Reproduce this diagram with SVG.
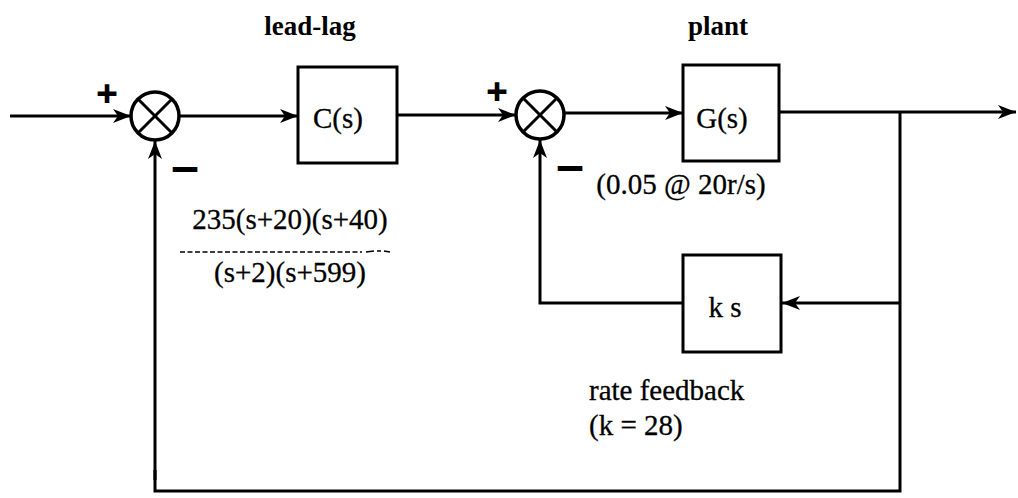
<svg xmlns="http://www.w3.org/2000/svg" width="1018" height="498" viewBox="0 0 1018 498">
<style>
  .box { fill: #fff; stroke: #000; stroke-width: 3; }
  .sum { fill: #fff; stroke: #000; stroke-width: 3.5; }
  .wire { fill: none; stroke: #000; stroke-width: 3; }
  .arr { marker-end: url(#ah); }
  .t { font-family: "Liberation Serif", "Times New Roman", "DejaVu Serif", serif; font-size: 29px; fill: #000; stroke: #000; stroke-width: 0.3; }
  .b { font-family: "Liberation Serif", "Times New Roman", "DejaVu Serif", serif; font-size: 27px; font-weight: bold; fill: #000; }
  .sg { font-family: "Liberation Serif", "Times New Roman", "DejaVu Serif", serif; font-weight: bold; fill: #000; stroke: #000; stroke-width: 2; }
</style>
<defs>
  <marker id="ah" markerUnits="userSpaceOnUse" markerWidth="20" markerHeight="14" refX="18" refY="7" orient="auto">
    <path d="M0,0 L18,7 L0,14 L5,7 Z" fill="#000"/>
  </marker>
</defs>

<g id="connectors">
  <line class="wire arr" x1="10" y1="116" x2="131" y2="116"/>
  <line class="wire arr" x1="180" y1="116" x2="298" y2="116"/>
  <line class="wire arr" x1="397" y1="115" x2="516" y2="115"/>
  <line class="wire arr" x1="565" y1="113" x2="683" y2="113"/>
  <line class="wire arr" x1="779" y1="112" x2="1016" y2="112"/>
  <polyline class="wire" points="900,112 900,491 155,491 155,470"/>
  <line class="wire arr" x1="155" y1="480" x2="155" y2="141"/>
  <line class="wire arr" x1="900" y1="303" x2="782" y2="303"/>
  <polyline class="wire arr" points="683,303 540,303 540,140"/>
</g>

<g id="sum1">
  <circle class="sum" cx="155" cy="116" r="24"/>
  <line class="wire" x1="138" y1="99" x2="172" y2="133"/>
  <line class="wire" x1="172" y1="99" x2="138" y2="133"/>
  <text class="sg" x="107" y="106" font-size="36" text-anchor="middle">+</text>
  <text class="sg" x="185" y="180" font-size="44" text-anchor="middle">–</text>
</g>

<g id="sum2">
  <circle class="sum" cx="540" cy="115" r="24"/>
  <line class="wire" x1="523" y1="98" x2="557" y2="132"/>
  <line class="wire" x1="557" y1="98" x2="523" y2="132"/>
  <text class="sg" x="497" y="104" font-size="36" text-anchor="middle">+</text>
  <text class="sg" x="570" y="179" font-size="44" text-anchor="middle">–</text>
</g>

<g id="leadlag">
  <rect class="box" x="298" y="67" width="99" height="96"/>
  <text class="t" x="338" y="128" text-anchor="middle">C(s)</text>
  <text class="b" x="310" y="35" text-anchor="middle">lead-lag</text>
  <text class="t" x="290" y="229" text-anchor="middle">235(s+20)(s+40)</text>
  <line x1="180" y1="252" x2="362" y2="252" stroke="#000" stroke-width="1.6" stroke-dasharray="5 2.5"/>
  <path d="M366,252 L374,251 M377,251 L381,251 M384,251 L390,252" stroke="#000" stroke-width="1.6" fill="none"/>
  <text class="t" x="290" y="282" text-anchor="middle">(s+2)(s+599)</text>
</g>

<g id="plant">
  <rect class="box" x="683" y="65" width="96" height="96"/>
  <text class="t" x="722" y="128" text-anchor="middle">G(s)</text>
  <text class="b" x="718" y="35" text-anchor="middle">plant</text>
  <text class="t" x="681" y="194" text-anchor="middle">(0.05 @ 20r/s)</text>
</g>

<g id="ratefeedback">
  <rect class="box" x="683" y="255" width="98" height="97"/>
  <text class="t" x="725" y="317" text-anchor="middle">k s</text>
  <text class="t" x="589" y="400">rate feedback</text>
  <text class="t" x="589" y="435">(k = 28)</text>
</g>
</svg>
